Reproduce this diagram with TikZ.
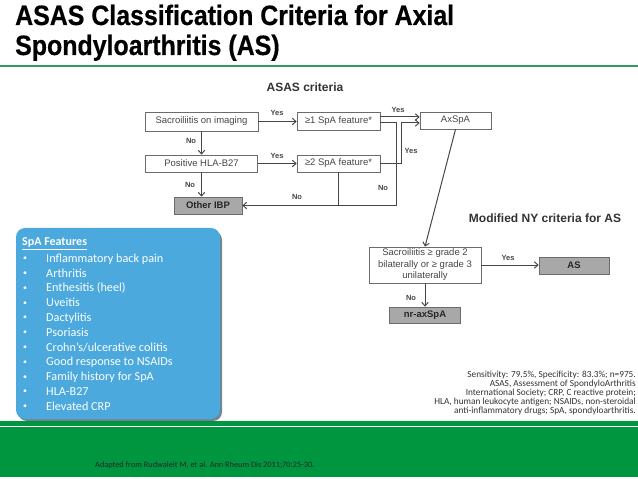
\documentclass[tikz,border=0pt]{standalone}
\usepackage{fontspec}
\setmainfont{Liberation Sans}
\newfontfamily\titlefont{Liberation Sans}[FakeStretch=0.89, FakeBold=0.5]
\newfontfamily\calfont{Carlito}
\usetikzlibrary{arrows.meta}

\definecolor{slidegreen}{RGB}{0,150,64}
\definecolor{rulegreen}{RGB}{52,156,88}
\definecolor{spablue}{RGB}{75,169,222}
\definecolor{chartgray}{RGB}{70,70,70}
\definecolor{boxgray}{RGB}{168,168,168}

\tikzset{
  crit/.style={draw=chartgray!80, line width=0.8bp, fill=white, minimum height=17bp, inner sep=0pt,
    font=\fontsize{9.5bp}{11bp}\selectfont, text=chartgray},
  result/.style={crit, fill=boxgray, font=\bfseries\fontsize{9.5bp}{11bp}\selectfont, text=black!85},
  flow/.style={draw=chartgray, line width=1bp, -{Straight Barb[length=3.5bp,width=6.5bp]}},
  link/.style={draw=chartgray, line width=1bp},
  answer/.style={font=\bfseries\fontsize{7.5bp}{9bp}\selectfont, text=chartgray, inner sep=0pt},
  heading/.style={font=\bfseries\fontsize{12bp}{14bp}\selectfont, text=black!80, inner sep=0pt},
  spatext/.style={font=\calfont\fontsize{12.2bp}{14bp}\selectfont, text=white, inner sep=0pt, anchor=base west}
}

\begin{document}
\begin{tikzpicture}[x=1bp, y=-1bp]
\useasboundingbox (0,0) rectangle (638,479);

% title
\node[anchor=base west, inner sep=0pt, font=\titlefont\bfseries\fontsize{28bp}{30bp}\selectfont] (title1) at (15,25) {ASAS Classification Criteria for Axial};
\node[anchor=base west, inner sep=0pt, font=\titlefont\bfseries\fontsize{28bp}{30bp}\selectfont] (title2) at (15,55) {Spondyloarthritis (AS)};
\fill[rulegreen] (0,64.8) rectangle (638,66.8);

% ASAS criteria
\node[heading] (asas) at (305,87) {ASAS criteria};
\node[crit, minimum width=113bp, minimum height=19bp] (sacro) at (201.5,121.5) {Sacroiliitis on imaging};
\node[crit, minimum width=83bp, minimum height=18bp] (feat1) at (338.5,121) {≥1 SpA feature*};
\node[crit, minimum width=71bp] (axspa) at (455.5,120.5) {AxSpA};
\node[crit, minimum width=112bp] (hla) at (201.5,163.5) {Positive HLA-B27};
\node[crit, minimum width=83bp] (feat2) at (338.5,163.5) {≥2 SpA feature*};
\node[result, minimum width=68bp] (ibp) at (208,205.5) {Other IBP};

\draw[flow] (sacro.east) -- (sacro.east -| feat1.west);
\draw[flow] (sacro.south) -- (hla.north);
\draw[flow] (hla.east) -- (hla.east -| feat2.west);
\draw[flow] (hla.south) -- (hla.south |- ibp.north);
\draw[flow] ([yshift=4bp]feat1.east) -- ([yshift=4bp]feat1.east -| axspa.west);
\draw[flow] ([yshift=-2bp]feat1.east) -- ++(16,0) |- (ibp.east);
\draw[flow] (feat2.east) -- ++(21,0) |- ([yshift=-2.5bp]axspa.west);
\draw[link] (feat2.south) -- (feat2.south |- ibp.east);

\node[answer] (yes1) at (277,113) {Yes};
\node[answer] (no1) at (191,141) {No};
\node[answer] (yes2) at (277,156) {Yes};
\node[answer] (no2) at (190,185) {No};
\node[answer] (yes3) at (398,110) {Yes};
\node[answer] (yes4) at (411,151) {Yes};
\node[answer] (no3) at (383,188) {No};
\node[answer] (no4) at (297,197) {No};

% Modified NY criteria
\node[heading] (mny) at (545,218) {Modified NY criteria for AS};
\node[crit, minimum width=112bp, minimum height=36bp, align=center, font=\fontsize{9.5bp}{11.5bp}\selectfont] (sacgrade) at (425,265)
  {Sacroiliitis ≥ grade 2\\bilaterally or ≥ grade 3\\unilaterally};
\node[result, minimum width=70bp] (as) at (574,265.5) {AS};
\node[result, minimum width=71bp, minimum height=16bp] (nraxspa) at (425,315) {nr-axSpA};

\draw[flow] (axspa.south) -- (sacgrade.north);
\draw[flow] (sacgrade.east) -- (sacgrade.east -| as.west);
\draw[flow] (sacgrade.south) -- (nraxspa.north);
\node[answer] (yes5) at (508,258) {Yes};
\node[answer] (no5) at (411,298) {No};

% bottom band
\fill[slidegreen] (0,421) rectangle (638,425.5);
\fill[slidegreen] (0,427) rectangle (638,477);

% SpA features box
\fill[black!70!spablue, opacity=0.6, rounded corners=9bp] (18,231) rectangle (222,421);
\fill[spablue, rounded corners=9bp] (16,228) rectangle (220,419);
\node[spatext, font=\calfont\bfseries\fontsize{12bp}{14bp}\selectfont] (spahead) at (22,246) {\underline{SpA Features}};
\foreach \feat [count=\i] in {Inflammatory back pain, Arthritis, Enthesitis (heel), Uveitis, Dactylitis,
  Psoriasis, Crohn’s/ulcerative colitis, Good response to NSAIDs, Family history for SpA, HLA-B27, Elevated CRP}
{
  \node[spatext, anchor=base, font=\calfont\fontsize{8bp}{9bp}\selectfont] (dot\i) at (25,245.8+14.8*\i) {\textbullet};
  \node[spatext] (spa\i) at (46,247.4+14.8*\i) {\feat};
}

% notes
\node[anchor=north east, inner sep=0pt, align=right, text=black!80, font=\calfont\fontsize{9.3bp}{9bp}\selectfont] (notes) at (636,370.5)
  {Sensitivity: 79.5\%, Specificity: 83.3\%; n=975.\\
   ASAS, Assessment of SpondyloArthritis\\
   International Society; CRP, C reactive protein;\\
   HLA, human leukocyte antigen; NSAIDs, non-steroidal\\
   anti-inflammatory drugs; SpA, spondyloarthritis.};
\node[anchor=base west, inner sep=0pt, text=black!85, font=\calfont\fontsize{8.3bp}{9bp}\selectfont] (source) at (95,467)
  {Adapted from Rudwaleit M, et al. Ann Rheum Dis 2011;70:25-30.};

\end{tikzpicture}
\end{document}
